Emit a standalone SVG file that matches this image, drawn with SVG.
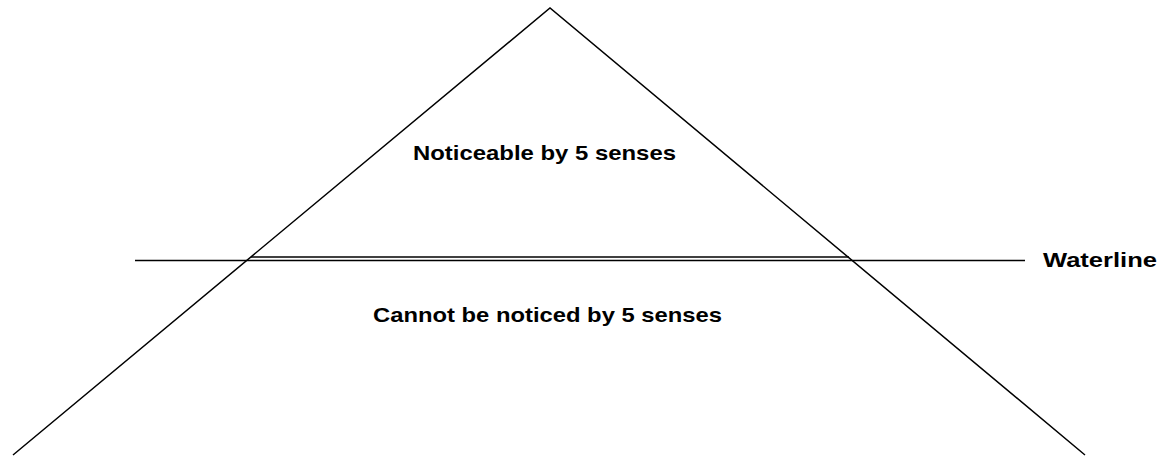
<svg xmlns="http://www.w3.org/2000/svg" width="1171" height="457" viewBox="0 0 1171 457">
<style>
.ln{fill:none;stroke:#000;stroke-width:1.5}
.t{font-family:"Liberation Sans",Arial,sans-serif;font-weight:bold;font-size:20.5px;fill:#000}
</style>
<rect width="1171" height="457" fill="#fff"/>
<g id="connectors">
<polyline class="ln" points="13,455 550,8 1085,455"/>
<line class="ln" x1="251" y1="257" x2="849" y2="257"/>
<line class="ln" x1="135" y1="260.5" x2="1025" y2="260.5"/>
</g>
<g id="top-label"><text class="t" x="413" y="160" textLength="263" lengthAdjust="spacingAndGlyphs">Noticeable by 5 senses</text></g>
<g id="bottom-label"><text class="t" x="373" y="322" textLength="349" lengthAdjust="spacingAndGlyphs">Cannot be noticed by 5 senses</text></g>
<g id="waterline-label"><text class="t" x="1043" y="267" textLength="114" lengthAdjust="spacingAndGlyphs">Waterline</text></g>
</svg>
